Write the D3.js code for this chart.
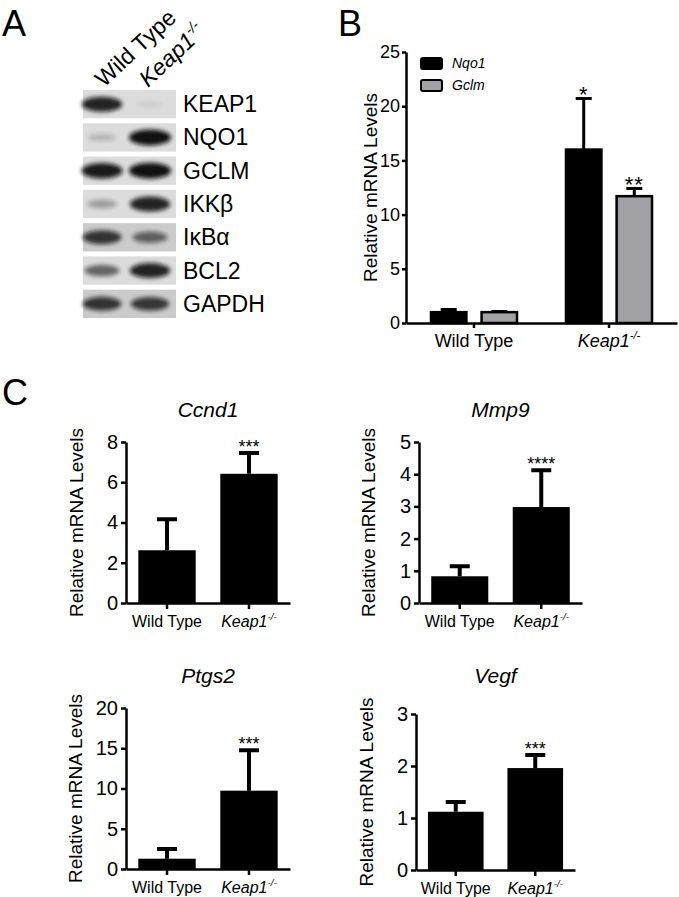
<!DOCTYPE html>
<html>
<head>
<meta charset="utf-8">
<script src="https://cdn.jsdelivr.net/npm/d3@7"></script>
<style>
  body { margin: 0; background: #fff; }
  svg { display: block; font-family: Arial, "Liberation Sans", sans-serif; }
</style>
</head>
<body>
<div id="fig"></div>
<script>
// ---- panel A: western blot ----
var lanes = ["Wild Type", "Keap1"];
var blotProteins = ["KEAP1", "NQO1", "GCLM", "IKKβ", "IκBα", "BCL2", "GAPDH"];
var blotWildType = [0.9, 0.12, 0.95, 0.25, 0.8, 0.55, 0.8];   // band darkness
var blotKeap1 = [0.0, 1.0, 1.0, 0.9, 0.55, 0.9, 0.78];

// ---- panel B: Nqo1 / Gclm ----
var groupsB = ["Wild Type", "Keap1"];
var seriesB = ["Nqo1", "Gclm"];
var nqo1Mean = [1.0, 16.0];
var nqo1Err = [0.25, 4.7];
var nqo1Stars = ["", "*"];
var gclmMean = [1.0, 11.7];
var gclmErr = [0.05, 0.7];
var gclmStars = ["", "**"];
var ticksB = [0, 5, 10, 15, 20, 25];

// ---- panel C: four genes ----
var genesC = ["Ccnd1", "Mmp9", "Ptgs2", "Vegf"];
var ccnd1Mean = [2.62, 6.42], ccnd1Err = [1.54, 1.03];
var mmp9Mean = [0.83, 2.98], mmp9Err = [0.31, 1.14];
var ptgs2Mean = [1.28, 9.73], ptgs2Err = [1.19, 5.03];
var vegfMean = [1.12, 1.96], vegfErr = [0.19, 0.25];
var ticksCcnd1 = [0, 2, 4, 6, 8];
var ticksMmp9 = [0, 1, 2, 3, 4, 5];
var ticksPtgs2 = [0, 5, 10, 15, 20];
var ticksVegf = [0, 1, 2, 3];
var starsC = ["***", "****", "***", "***"];

var svg = d3.select("#fig").append("svg")
    .attr("width", 679)
    .attr("height", 897);

svg.append("defs").append("filter")
    .attr("id", "blur")
    .attr("x", "-50%").attr("y", "-100%")
    .attr("width", "200%").attr("height", "300%")
    .append("feGaussianBlur")
    .attr("stdDeviation", 2.2);

// panel letters
[["A", 2, 36], ["B", 338, 36], ["C", 2, 405]].forEach(function (l) {
    svg.append("text").attr("x", l[1]).attr("y", l[2])
        .attr("font-size", 36).text(l[0]);
});

// keap1 label with -/- superscript
function keapLabel(sel, size) {
    sel.append("tspan").attr("font-style", "italic").text("Keap1");
    sel.append("tspan").attr("font-style", "italic")
        .attr("font-size", size * 0.62).attr("dy", -size * 0.42).text("-/-");
}

function drawBlot() {
    var x = d3.scalePoint().domain(lanes).range([102, 150]);
    var y = d3.scaleBand().domain(blotProteins).range([90, 318]).paddingInner(0.15);

    var g = svg.append("g");
    g.selectAll("rect.strip")
        .data(blotProteins).enter()
        .append("rect")
        .attr("class", "strip")
        .attr("x", 83).attr("width", 93)
        .attr("y", function (d) { return y(d); })
        .attr("height", y.bandwidth())
        .attr("fill", function (d, i) { return i == 4 || i == 6 ? "#cbcbcb" : "#dcdcdc"; });

    var bands = [];
    blotProteins.forEach(function (p, i) {
        bands.push({ p: p, lane: lanes[0], v: blotWildType[i] });
        bands.push({ p: p, lane: lanes[1], v: blotKeap1[i] });
    });
    g.selectAll("ellipse")
        .data(bands).enter()
        .append("ellipse")
        .attr("cx", function (d) { return x(d.lane); })
        .attr("cy", function (d) { return y(d.p) + y.bandwidth() / 2; })
        .attr("rx", function (d) { return 13 + 8 * d.v; })
        .attr("ry", function (d) { return 3 + 5 * d.v; })
        .attr("fill", "#111")
        .attr("opacity", function (d) { return 0.08 + 0.9 * d.v; })
        .attr("filter", "url(#blur)");

    g.selectAll("text.prot")
        .data(blotProteins).enter()
        .append("text")
        .attr("class", "prot")
        .attr("x", 183)
        .attr("y", function (d) { return y(d) + y.bandwidth() / 2 + 8; })
        .attr("font-size", 23)
        .text(function (d) { return d; });

    lanes.forEach(function (l, i) {
        var t = g.append("text")
            .attr("transform", "translate(" + (x(l) + 2 - 4 * i) + ",88) rotate(-43)")
            .attr("font-size", 23);
        if (i == 0) t.text(l);
        else keapLabel(t, 23);
    });
}

function styleAxis(a, fs, sw) {
    a.selectAll("path").attr("stroke", "#000").attr("stroke-width", sw);
    a.selectAll("line").attr("stroke", "#000").attr("stroke-width", sw);
    a.selectAll("text").attr("font-size", fs).attr("fill", "#000")
        .attr("font-family", "Arial, 'Liberation Sans', sans-serif");
}

function xLabels(g, x, yb, fs) {
    g.selectAll("text.xl")
        .data(x.domain()).enter()
        .append("text")
        .attr("class", "xl")
        .attr("x", function (d) { return x(d) + x.bandwidth() / 2; })
        .attr("y", yb + 24)
        .attr("text-anchor", "middle")
        .attr("font-size", fs)
        .each(function (d, i) {
            if (i == 0) d3.select(this).text(d);
            else keapLabel(d3.select(this), fs);
        });
}

function yLabel(g, xb, yt, yb, fs) {
    g.append("text")
        .attr("transform", "translate(" + xb + "," + ((yt + yb) / 2) + ") rotate(-90)")
        .attr("text-anchor", "middle")
        .attr("font-size", fs)
        .text("Relative mRNA Levels");
}

function drawPanelB() {
    var x0 = 406, x1 = 677, yt = 52, yb = 323;
    var g = svg.append("g");
    var x = d3.scaleBand().domain(groupsB).range([x0, x1]).paddingInner(0.363).paddingOuter(0.185);
    var xs = d3.scaleBand().domain(seriesB).range([0, x.bandwidth()]).paddingInner(0.3);
    var y = d3.scaleLinear().domain([0, 25]).range([yb, yt]);

    var data = [];
    groupsB.forEach(function (grp, i) {
        data.push({ g: grp, s: "Nqo1", m: nqo1Mean[i], e: nqo1Err[i], st: nqo1Stars[i] });
        data.push({ g: grp, s: "Gclm", m: gclmMean[i], e: gclmErr[i], st: gclmStars[i] });
    });
    var fill = { Nqo1: "#000", Gclm: "#a2a2a6" };
    var bx = function (d) { return x(d.g) + xs(d.s); };

    g.selectAll("path.err")
        .data(data).enter()
        .append("path")
        .attr("d", function (d) {
            var cx = bx(d) + xs.bandwidth() / 2, ty = y(d.m + d.e);
            return "M" + cx + "," + y(d.m) + "V" + ty + "M" + (cx - 8) + "," + ty + "H" + (cx + 8);
        })
        .attr("stroke", "#000").attr("stroke-width", 3).attr("fill", "none");

    g.selectAll("rect")
        .data(data).enter()
        .append("rect")
        .attr("x", bx)
        .attr("y", function (d) { return y(d.m); })
        .attr("width", xs.bandwidth())
        .attr("height", function (d) { return yb - y(d.m); })
        .attr("fill", function (d) { return fill[d.s]; })
        .attr("stroke", "#000").attr("stroke-width", 2.5);

    g.selectAll("text.star")
        .data(data).enter()
        .append("text")
        .attr("class", "star")
        .attr("x", function (d) { return bx(d) + xs.bandwidth() / 2; })
        .attr("y", function (d) { return y(d.m + d.e) + 3; })
        .attr("text-anchor", "middle")
        .attr("font-size", 22)
        .attr("letter-spacing", 1)
        .text(function (d) { return d.st; });

    var ya = g.append("g").attr("transform", "translate(" + x0 + ",0)")
        .call(d3.axisLeft(y).tickValues(ticksB).tickSizeInner(4).tickSizeOuter(0).tickPadding(2)
            .tickFormat(d3.format("d")));
    styleAxis(ya, 18, 2.5);
    var xa = g.append("g").attr("transform", "translate(0," + yb + ")")
        .call(d3.axisBottom(x).tickSizeInner(5).tickSizeOuter(0).tickFormat(""));
    styleAxis(xa, 18, 2.5);
    xLabels(g, x, yb, 18);
    yLabel(g, 377, yt, yb, 19);

    // legend
    var lg = g.selectAll("g.leg")
        .data(seriesB).enter()
        .append("g")
        .attr("class", "leg")
        .attr("transform", function (d, i) { return "translate(421," + (58 + i * 22) + ")"; });
    lg.append("rect")
        .attr("width", 21).attr("height", 11).attr("rx", 2)
        .attr("fill", function (d) { return fill[d]; })
        .attr("stroke", "#000").attr("stroke-width", 2);
    lg.append("text")
        .attr("x", 31).attr("y", 10)
        .attr("font-size", 14).attr("font-style", "italic")
        .text(function (d) { return d; });
}

function drawPanelC(cfg) {
    var g = svg.append("g");
    var x = d3.scaleBand().domain(groupsB).range([cfg.x0, cfg.x1]).paddingInner(0.3).paddingOuter(0.15);
    var y = d3.scaleLinear().domain([0, cfg.ticks[cfg.ticks.length - 1]]).range([cfg.yb, cfg.yt]);
    var data = cfg.mean.map(function (m, i) { return { g: groupsB[i], m: m, e: cfg.err[i] }; });

    g.selectAll("path.err")
        .data(data).enter()
        .append("path")
        .attr("d", function (d) {
            var cx = x(d.g) + x.bandwidth() / 2, ty = y(d.m + d.e);
            return "M" + cx + "," + y(d.m) + "V" + ty + "M" + (cx - 10) + "," + ty + "H" + (cx + 10);
        })
        .attr("stroke", "#000").attr("stroke-width", 4).attr("fill", "none");

    g.selectAll("rect")
        .data(data).enter()
        .append("rect")
        .attr("x", function (d) { return x(d.g); })
        .attr("y", function (d) { return y(d.m); })
        .attr("width", x.bandwidth())
        .attr("height", function (d) { return cfg.yb - y(d.m); })
        .attr("fill", "#000");

    var k = data[1];
    g.append("text")
        .attr("x", x(k.g) + x.bandwidth() / 2)
        .attr("y", y(k.m + k.e))
        .attr("text-anchor", "middle")
        .attr("font-size", 18)
        .text(cfg.stars);

    g.append("text")
        .attr("x", (cfg.x0 + cfg.x1) / 2)
        .attr("y", cfg.ty)
        .attr("text-anchor", "middle")
        .attr("font-size", 21).attr("font-style", "italic")
        .text(cfg.title);

    var ya = g.append("g").attr("transform", "translate(" + cfg.x0 + ",0)")
        .call(d3.axisLeft(y).tickValues(cfg.ticks).tickSizeInner(5).tickSizeOuter(0).tickPadding(3)
            .tickFormat(d3.format("d")));
    styleAxis(ya, 20, 2.5);
    var xa = g.append("g").attr("transform", "translate(0," + cfg.yb + ")")
        .call(d3.axisBottom(x).tickSizeInner(6).tickSizeOuter(0).tickFormat(""));
    styleAxis(xa, 16, 2.5);
    xLabels(g, x, cfg.yb, 16);
    yLabel(g, cfg.lx, cfg.yt, cfg.yb, 19);
}

drawBlot();
drawPanelB();
drawPanelC({ title: genesC[0], mean: ccnd1Mean, err: ccnd1Err, ticks: ticksCcnd1, stars: starsC[0],
    x0: 126, x1: 290, yt: 442, yb: 603, ty: 417, lx: 83 });
drawPanelC({ title: genesC[1], mean: mmp9Mean, err: mmp9Err, ticks: ticksMmp9, stars: starsC[1],
    x0: 419, x1: 582, yt: 442, yb: 603, ty: 417, lx: 375 });
drawPanelC({ title: genesC[2], mean: ptgs2Mean, err: ptgs2Err, ticks: ticksPtgs2, stars: starsC[2],
    x0: 126, x1: 290, yt: 708, yb: 869, ty: 683, lx: 82 });
drawPanelC({ title: genesC[3], mean: vegfMean, err: vegfErr, ticks: ticksVegf, stars: starsC[3],
    x0: 416, x1: 575, yt: 714, yb: 870, ty: 683, lx: 373 });
</script>
</body>
</html>
